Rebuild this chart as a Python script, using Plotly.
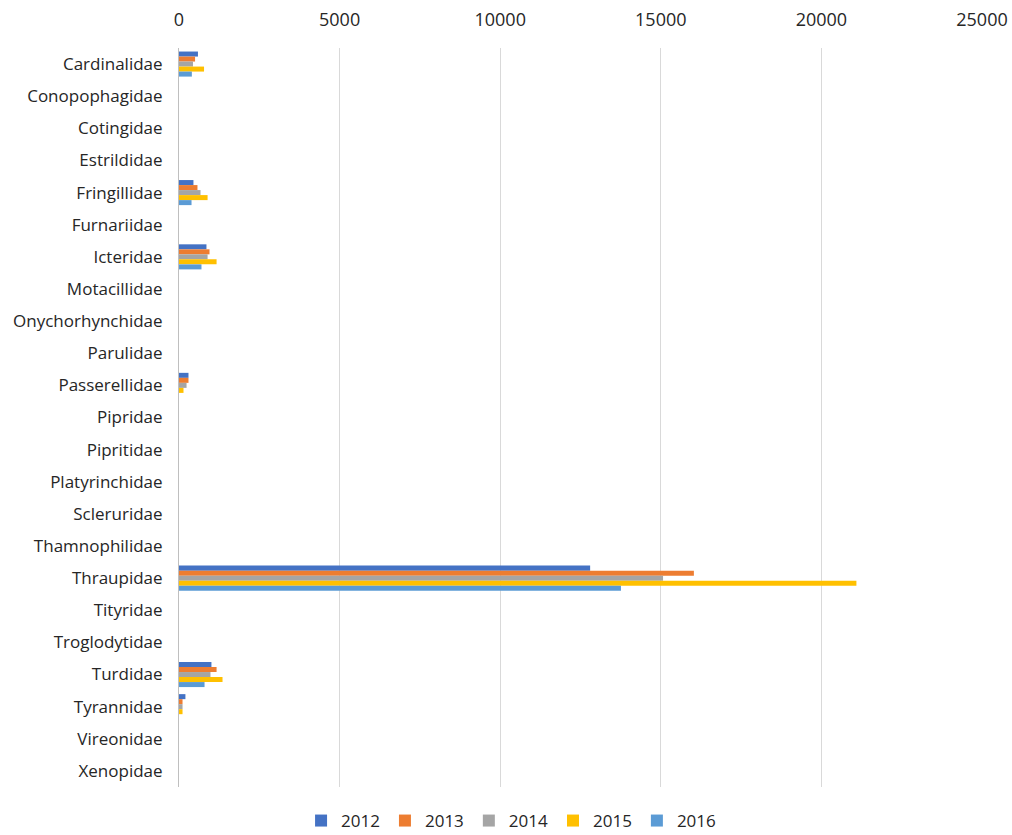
import plotly.graph_objects as go

families = [
    "Cardinalidae", "Conopophagidae", "Cotingidae", "Estrildidae", "Fringillidae",
    "Furnariidae", "Icteridae", "Motacillidae", "Onychorhynchidae", "Parulidae",
    "Passerellidae", "Pipridae", "Pipritidae", "Platyrinchidae", "Scleruridae",
    "Thamnophilidae", "Thraupidae", "Tityridae", "Troglodytidae", "Turdidae",
    "Tyrannidae", "Vireonidae", "Xenopidae",
]

years = ["2012", "2013", "2014", "2015", "2016"]

counts_2012 = [590, 0, 0, 0, 450, 0, 855, 0, 0, 0, 295, 0, 0, 0, 0, 0, 12800, 0, 0, 1010, 200, 0, 0]
counts_2013 = [500, 0, 0, 0, 575, 0, 950, 0, 0, 0, 295, 0, 0, 0, 0, 0, 16030, 0, 0, 1170, 110, 0, 0]
counts_2014 = [435, 0, 0, 0, 670, 0, 890, 0, 0, 0, 235, 0, 0, 0, 0, 0, 15070, 0, 0, 980, 110, 0, 0]
counts_2015 = [780, 0, 0, 0, 890, 0, 1170, 0, 0, 0, 140, 0, 0, 0, 0, 0, 21090, 0, 0, 1355, 110, 0, 0]
counts_2016 = [400, 0, 0, 0, 390, 0, 700, 0, 0, 0, 0, 0, 0, 0, 0, 0, 13760, 0, 0, 795, 0, 0, 0]

series = [counts_2012, counts_2013, counts_2014, counts_2015, counts_2016]
colors = ["#4472C4", "#ED7D31", "#A5A5A5", "#FFC000", "#5B9BD5"]

fig = go.Figure()
for year, values, color in zip(years, series, colors):
    fig.add_trace(go.Bar(
        y=families, x=values, name=year, orientation="h",
        marker=dict(color=color, line=dict(width=0)),
    ))

font_family = "Open Sans, Roboto, sans-serif"

fig.update_layout(
    barmode="group",
    bargap=0.22,
    bargroupgap=0,
    width=1012,
    height=835,
    margin=dict(l=179, r=30, t=48, b=48),
    paper_bgcolor="white",
    plot_bgcolor="white",
    font=dict(family=font_family, size=17, color="#262626"),
    xaxis=dict(
        side="top",
        range=[0, 25000],
        tickvals=[0, 5000, 10000, 15000, 20000, 25000],
        ticktext=["0", "5000", "10000", "15000", "20000", "25000"],
        showgrid=True,
        gridcolor="#D9D9D9",
        gridwidth=1,
        zeroline=False,
        showline=False,
        ticks="",
        ticklabelstandoff=17,
        tickfont=dict(size=18),
        automargin=False,
    ),
    yaxis=dict(
        categoryorder="array",
        categoryarray=families,
        autorange="reversed",
        showline=True,
        linecolor="#BFBFBF",
        linewidth=1,
        showgrid=False,
        zeroline=False,
        ticks="",
        ticklabelstandoff=12,
        tickfont=dict(size=17),
        automargin=False,
    ),
    legend=dict(
        orientation="h",
        x=0.505,
        xanchor="center",
        xref="container",
        y=14 / 835,
        yanchor="middle",
        yref="container",
        font=dict(size=17),
        traceorder="normal",
    ),
)

fig.write_html("out.html")
